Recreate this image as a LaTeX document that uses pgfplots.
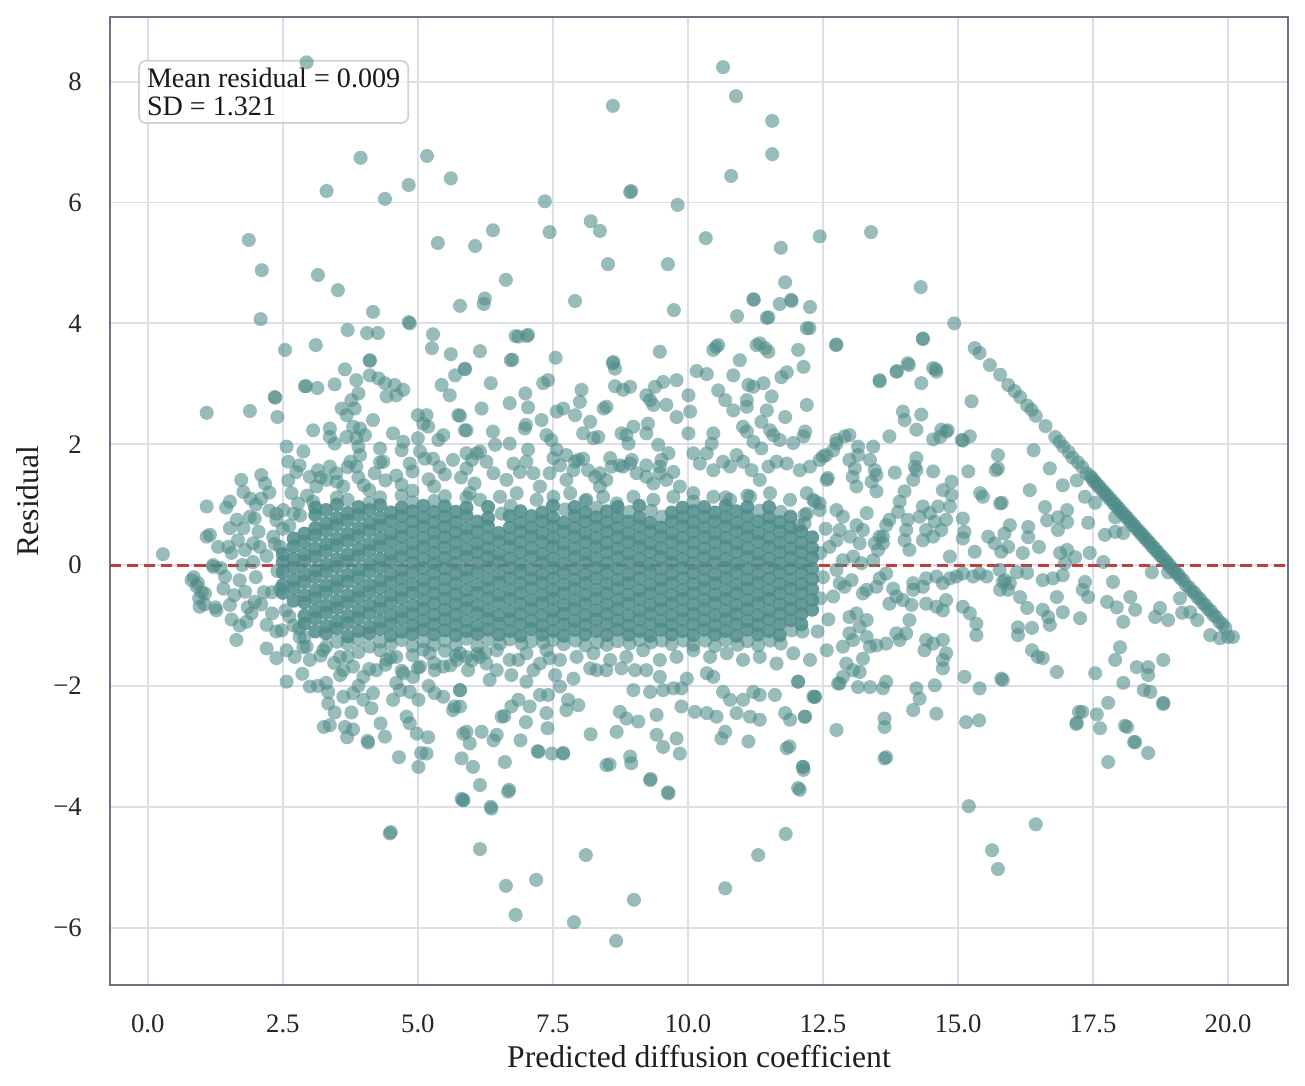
\documentclass[border=0pt]{standalone}
\usepackage{fontspec}
\setmainfont{Liberation Serif}
\usepackage{pgfplots}
\usepackage{pgfplotstable}
\pgfplotsset{compat=1.18}
\usetikzlibrary{calc}
\definecolor{ptc}{RGB}{78,139,136}
\definecolor{gridc}{RGB}{220,222,232}
\definecolor{framec}{RGB}{108,114,128}
\definecolor{redc}{RGB}{196,60,60}
\pgfplotsset{pts/.style={only marks, mark=*, mark size=2.0pt, color=ptc, mark options={fill=ptc, fill opacity=0.58, draw opacity=0, line width=0pt}},
  corepts/.style={only marks, mark=*, mark size=2.0pt, color=ptc, mark options={fill=ptc, fill opacity=0.85, draw opacity=0, line width=0pt}}}

\pgfplotstableread{
x r0 r1 r2 r3 r4 r5 r6 r7 r8 r9 r10 r11 r12 r13 r14 r15 r16
2.50 nan nan nan nan nan nan -0.46 -0.33 -0.12 0.05 0.18 nan nan nan nan nan nan
2.70 nan nan nan nan nan -0.59 -0.38 -0.25 -0.04 0.10 0.31 0.44 nan nan nan nan nan
2.90 nan nan nan -0.97 -0.84 -0.62 -0.50 -0.28 -0.15 0.06 0.18 0.39 0.52 nan nan nan nan
3.10 nan nan -1.10 -0.88 -0.76 -0.55 -0.42 -0.20 -0.08 0.14 0.27 0.49 0.61 0.83 0.95 nan nan
3.30 nan -1.35 -1.13 -1.01 -0.79 -0.67 -0.45 -0.33 -0.11 0.01 0.23 0.35 0.57 0.69 0.91 nan nan
3.50 nan -1.27 -1.05 -0.93 -0.71 -0.59 -0.37 -0.25 -0.03 0.10 0.32 0.44 0.66 0.78 1.00 1.12 nan
3.70 -1.52 -1.30 -1.18 -0.96 -0.84 -0.62 -0.50 -0.28 -0.16 0.06 0.18 0.40 0.52 0.74 0.86 1.08 nan
3.90 -1.44 -1.23 -1.09 -0.88 -0.75 -0.54 -0.42 -0.21 -0.07 0.15 0.27 0.48 0.61 0.83 0.96 nan nan
4.10 nan -1.35 -1.13 -1.02 -0.80 -0.66 -0.45 -0.33 -0.11 0.02 0.23 0.35 0.57 0.70 0.91 1.03 1.24
4.30 -1.41 -1.27 -1.06 -0.93 -0.72 -0.59 -0.38 -0.25 -0.04 0.10 0.31 0.44 0.65 0.78 0.99 1.12 nan
4.50 -1.53 -1.31 -1.17 -0.97 -0.83 -0.63 -0.49 -0.29 -0.15 0.05 0.19 0.39 0.53 0.73 0.87 nan nan
4.70 nan -1.24 -1.10 -0.89 -0.76 -0.55 -0.41 -0.22 -0.08 0.13 0.28 0.47 0.62 0.81 0.95 1.15 nan
4.90 -1.49 -1.34 -1.14 -1.00 -0.81 -0.67 -0.46 -0.32 -0.12 0.04 0.21 0.36 0.55 0.72 0.89 1.04 1.23
5.10 -1.40 -1.26 -1.07 -0.92 -0.73 -0.58 -0.39 -0.24 -0.05 0.11 0.30 0.45 0.64 0.79 0.98 nan nan
5.30 nan -1.32 -1.15 -0.98 -0.82 -0.64 -0.47 -0.30 -0.13 0.03 0.20 0.38 0.54 0.71 0.88 1.06 nan
5.50 -1.42 -1.25 -1.08 -0.90 -0.74 -0.56 -0.40 -0.23 -0.06 0.12 0.29 0.46 0.63 0.80 0.97 1.14 nan
5.70 -1.50 -1.33 -1.16 -0.99 -0.82 -0.65 -0.48 -0.31 -0.14 0.03 0.20 0.37 0.54 0.71 0.88 nan nan
5.90 nan -1.22 -1.09 -0.92 -0.72 -0.58 -0.41 -0.21 -0.07 0.14 0.27 0.47 0.61 0.82 0.95 1.12 nan
6.10 -1.47 -1.34 -1.14 -1.00 -0.80 -0.66 -0.46 -0.32 -0.12 0.04 0.21 0.36 0.55 0.72 nan nan nan
6.30 nan -1.23 -1.07 -0.89 -0.75 -0.55 -0.39 -0.24 -0.04 0.13 0.28 0.45 0.64 0.78 0.96 nan nan
6.50 nan nan -1.15 -0.97 -0.83 -0.63 -0.49 -0.29 -0.15 0.05 0.19 0.39 0.53 nan nan nan nan
6.70 nan -1.23 -1.09 -0.90 -0.76 -0.56 -0.41 -0.22 -0.05 0.11 0.30 0.44 0.62 0.81 nan nan nan
6.90 nan nan -1.17 -0.98 -0.81 -0.64 -0.47 -0.30 -0.13 0.02 0.21 0.38 0.55 0.70 0.89 nan nan
7.10 nan -1.26 -1.06 -0.92 -0.73 -0.58 -0.38 -0.23 -0.07 0.13 0.28 0.47 0.62 0.81 nan nan nan
7.30 nan nan -1.15 -1.00 -0.83 -0.64 -0.49 -0.30 -0.15 0.04 0.19 0.38 0.53 0.72 0.87 nan nan
7.50 nan -1.24 -1.09 -0.90 -0.75 -0.56 -0.41 -0.22 -0.05 0.11 0.30 0.45 0.64 0.79 0.98 nan nan
7.70 nan -1.31 -1.17 -0.98 -0.81 -0.66 -0.47 -0.32 -0.13 0.02 0.21 0.36 0.55 0.70 nan nan nan
7.90 nan nan -1.07 -0.92 -0.73 -0.58 -0.39 -0.24 -0.06 0.13 0.28 0.47 0.62 0.81 0.96 nan nan
8.10 nan -1.33 -1.15 -0.99 -0.83 -0.64 -0.49 -0.30 -0.15 0.04 0.19 0.38 0.53 0.72 0.87 1.06 nan
8.30 nan nan -1.09 -0.90 -0.75 -0.56 -0.41 -0.22 -0.05 0.11 0.30 0.45 0.64 0.79 nan nan nan
8.50 nan -1.32 -1.16 -0.98 -0.81 -0.65 -0.47 -0.31 -0.13 0.03 0.21 0.37 0.55 0.71 0.89 nan nan
8.70 nan -1.26 -1.07 -0.91 -0.73 -0.57 -0.39 -0.24 -0.06 0.12 0.28 0.46 0.62 0.80 0.96 nan nan
8.90 nan nan -1.15 -1.00 -0.83 -0.64 -0.49 -0.30 -0.15 0.04 0.19 0.38 0.53 0.72 nan nan nan
9.10 nan -1.24 -1.09 -0.90 -0.75 -0.56 -0.41 -0.22 -0.05 0.11 0.30 0.45 0.64 0.79 0.98 nan nan
9.30 nan nan -1.17 -0.98 -0.81 -0.66 -0.47 -0.32 -0.13 0.02 0.21 0.36 0.55 0.70 nan nan nan
9.50 nan nan -1.07 -0.92 -0.73 -0.58 -0.39 -0.24 -0.06 0.13 0.28 0.47 0.62 nan nan nan nan
9.70 nan -1.31 -1.15 -0.99 -0.83 -0.64 -0.49 -0.30 -0.15 0.04 0.19 0.38 0.53 0.72 0.87 nan nan
9.90 nan nan -1.09 -0.90 -0.75 -0.56 -0.41 -0.22 -0.05 0.11 0.30 0.45 0.64 0.79 0.95 nan nan
10.10 nan -1.32 -1.16 -0.98 -0.81 -0.65 -0.47 -0.31 -0.13 0.03 0.21 0.37 0.55 0.71 0.89 1.05 nan
10.30 nan nan -1.07 -0.91 -0.73 -0.57 -0.39 -0.24 -0.06 0.12 0.28 0.46 0.62 0.80 0.96 nan nan
10.50 nan -1.34 -1.15 -1.00 -0.83 -0.64 -0.49 -0.30 -0.15 0.04 0.19 0.38 0.53 0.72 0.87 nan nan
10.70 nan -1.24 -1.09 -0.90 -0.75 -0.56 -0.41 -0.22 -0.05 0.11 0.30 0.45 0.64 0.79 0.98 1.12 nan
10.90 nan nan -1.17 -0.98 -0.81 -0.66 -0.47 -0.32 -0.13 0.02 0.21 0.36 0.55 0.70 0.89 nan nan
11.10 nan -1.26 -1.07 -0.92 -0.73 -0.58 -0.39 -0.24 -0.06 0.13 0.28 0.47 0.62 0.81 0.96 1.15 nan
11.30 nan -1.33 -1.15 -0.99 -0.83 -0.64 -0.49 -0.30 -0.15 0.04 0.19 0.38 0.53 0.72 nan nan nan
11.50 nan nan -1.09 -0.90 -0.75 -0.56 -0.41 -0.22 -0.05 0.11 0.30 0.45 0.64 0.79 0.96 nan nan
11.70 nan nan -1.16 -0.98 -0.81 -0.65 -0.47 -0.31 -0.13 0.03 0.21 0.37 0.55 0.71 nan nan nan
11.90 nan nan nan -0.91 -0.73 -0.57 -0.39 -0.24 -0.06 0.12 0.28 0.46 0.62 0.80 nan nan nan
12.10 nan nan nan -0.98 -0.81 -0.65 -0.47 -0.31 -0.13 0.03 0.21 0.37 0.55 nan nan nan nan
12.30 nan nan nan nan -0.74 -0.58 -0.40 -0.23 -0.06 0.12 0.28 0.46 nan nan nan nan nan
}\coretab

\begin{document}
\begin{tikzpicture}
\begin{axis}[
  scale only axis, width=11.78cm, height=9.68cm,
  xmin=-0.70, xmax=21.11, ymin=-6.95, ymax=9.07,
  xtick={0,2.5,5,7.5,10,12.5,15,17.5,20},
  xticklabels={0.0,2.5,5.0,7.5,10.0,12.5,15.0,17.5,20.0},
  ytick={-6,-4,-2,0,2,4,6,8},
  yticklabels={−6,−4,−2,0,2,4,6,8},
  grid=major, major grid style={gridc, line width=0.55pt},
  axis line style={framec, line width=0.8pt},
  major tick length=0pt, tick style={draw=none},
  ticklabel style={font=\fontsize{7.6}{9}\selectfont, text=black!85},
  xticklabel style={yshift=-5pt},
  yticklabel style={xshift=-4.5pt},
  xlabel={Predicted diffusion coefficient},
  ylabel={Residual},
  label style={font=\fontsize{9}{11}\selectfont, text=black!88},
  xlabel style={at={(axis description cs:0.5,-0.0857)}, anchor=base},
  ylabel style={at={(axis description cs:-0.0696,0.5)}, anchor=center},
  clip=true,
]
\coordinate (bl) at (rel axis cs:0,0);
\coordinate (tr) at (rel axis cs:1,1);

% dense core
\pgfplotsinvokeforeach{2,...,14}{\addplot[corepts] table[x=x,y=r#1]{\coretab};}
\pgfplotsinvokeforeach{0,1,15,16}{\addplot[pts] table[x=x,y=r#1]{\coretab};}

% outliers above
\addplot[pts] coordinates {(2.94,8.32)(10.65,8.24)(10.89,7.76)(8.61,7.60)(11.56,7.35)(11.56,6.80)(3.94,6.74)(5.17,6.77)(10.80,6.44)(4.83,6.29)(5.61,6.40)(3.31,6.19)(4.39,6.06)(8.93,6.17)(8.95,6.19)(7.35,6.02)(9.81,5.96)(8.20,5.69)(8.37,5.53)(7.44,5.51)(1.87,5.38)(5.37,5.33)(6.06,5.28)(6.39,5.54)(10.33,5.41)(12.44,5.44)(13.39,5.51)(8.52,4.98)(9.63,4.98)(2.11,4.88)(3.15,4.80)(11.72,5.25)(6.63,4.72)(3.52,4.55)(11.80,4.68)(14.31,4.60)(7.91,4.37)(5.78,4.29)(6.22,4.32)(6.24,4.41)(9.74,4.22)(11.22,4.39)(11.91,4.39)(12.26,4.27)(2.09,4.07)(4.17,4.19)(10.91,4.12)(11.46,4.09)(4.83,4.02)(4.85,4.00)(14.93,4.00)(3.70,3.89)(4.06,3.84)(4.26,3.84)(5.28,3.82)(6.81,3.79)(7.02,3.79)(12.20,3.92)(2.54,3.56)(3.11,3.64)(5.26,3.59)(12.74,3.64)(14.35,3.74)(4.11,3.38)(5.61,3.49)(6.72,3.39)(8.61,3.34)(10.52,3.61)(11.33,3.67)(13.55,3.04)(13.87,3.21)(14.09,3.31)(14.59,3.24)(2.93,2.96)(2.35,2.78)(1.89,2.55)(1.09,2.52)(11.70,4.32)(11.92,4.37)(11.21,4.40)(11.49,4.10)(12.25,3.92)};

% halo upper left
\addplot[pts] coordinates {(5.69,3.14)(5.87,3.25)(5.44,2.98)(5.59,2.81)(5.75,2.48)(5.87,2.23)(4.11,3.39)(3.65,3.24)(2.91,2.96)(3.14,2.93)(3.46,2.99)(3.86,3.06)(4.11,3.14)(4.27,3.09)(4.39,3.01)(4.57,2.98)(4.73,2.90)(4.60,2.81)(4.42,2.79)(3.90,2.84)(2.36,2.77)(2.40,2.45)(3.77,2.73)(3.83,2.59)(3.59,2.59)(3.68,2.48)(4.17,2.40)(3.06,2.23)(3.37,2.26)(3.37,2.12)(3.46,2.01)(3.80,2.29)(3.93,2.26)(4.02,2.15)(3.68,2.12)(3.86,2.10)(3.90,1.96)(3.93,1.82)(3.75,1.71)(3.86,1.63)(4.54,2.18)(4.73,2.04)(4.70,1.90)(4.30,1.93)(4.36,1.71)(5.00,2.48)(5.16,2.48)(5.10,2.34)(5.19,2.29)(5.47,2.15)(5.38,2.07)(5.00,2.10)(5.65,1.74)(5.28,1.76)(5.04,1.88)(5.13,1.76)(2.57,1.96)(2.88,1.88)(2.60,1.71)(2.81,1.65)(2.75,1.54)(2.10,1.49)(2.17,1.35)(1.73,1.41)(1.77,1.21)(2.10,1.10)(1.98,0.77)(1.89,0.80)(2.38,0.85)(1.52,1.05)(1.09,0.97)(1.09,0.47)(0.28,0.18)(1.21,0.00)(1.52,0.61)(1.77,0.61)(1.49,0.30)(1.67,0.41)(1.80,0.25)(1.95,0.36)(2.07,0.30)(2.32,0.47)(2.38,0.74)(2.51,0.91)(2.66,1.19)(2.78,1.02)(3.06,1.05)(3.00,1.46)(3.15,1.57)(3.12,1.30)(3.37,1.63)(3.49,1.52)(3.62,1.30)(3.31,1.41)(3.2,1.45)(3.5,1.38)(3.9,1.45)(4.2,1.52)(4.4,1.40)(4.6,1.48)(4.9,1.55)(5.2,1.42)(5.5,1.50)(5.8,1.45)(6.05,1.35)(3.7,1.62)(4.3,1.70)(4.85,1.68)(5.4,1.62)(5.9,1.60)(4.0,1.32)(4.7,1.33)(5.3,1.30)(2.95,1.15)(2.7,0.85)(2.5,0.6)(2.35,0.35)(2.4,-0.1)(2.3,-0.45)(2.55,-0.75)(2.7,-1.0)(2.9,-1.2)};

% halo left edge
\addplot[pts] coordinates {(0.85,-0.2)(0.9,-0.35)(1.0,-0.45)(1.05,-0.65)(0.95,-0.55)(1.15,0.5)(1.3,0.3)(1.35,-0.05)(1.55,0.2)(1.6,-0.5)(1.65,0.75)(1.75,0.0)(1.85,-0.7)(1.9,1.1)(2.0,-0.2)(2.05,0.55)(2.15,-0.45)(2.2,0.15)(2.25,1.2)(2.3,-0.8)(1.25,-0.7)(1.45,0.95)(1.95,0.05)(2.1,-0.65)(2.45,0.3)(2.45,-0.4)(2.0,1.0)(1.7,-1.0)(2.6,1.4)(2.25,0.9)(1.55,-0.9)(0.81,-0.25)(0.93,-0.30)(1.06,-0.47)(0.96,-0.69)(1.27,-0.75)(1.52,-0.66)(1.40,-0.39)(1.21,-0.03)(1.43,-0.19)(1.70,-0.25)(1.80,-0.44)(1.64,-1.24)(1.83,-0.94)(1.92,-0.80)(2.20,-0.99)(1.98,-0.61)(2.38,-1.10)(2.48,-1.08)(2.62,-0.85)(2.80,-1.05)(2.62,0.65)(2.82,0.82)};

% halo lower left
\addplot[pts] coordinates {(2.20,-1.38)(2.38,-1.54)(2.57,-1.41)(2.72,-1.52)(2.88,-1.36)(3.00,-1.57)(2.57,-1.93)(2.86,-1.80)(3.00,-2.01)(3.15,-2.00)(3.34,-2.10)(3.34,-2.29)(3.46,-2.44)(3.37,-2.65)(3.65,-2.68)(3.77,-2.44)(3.80,-2.72)(4.08,-2.94)(4.14,-2.37)(4.31,-2.62)(4.39,-2.84)(3.56,-1.82)(3.62,-2.18)(3.80,-2.12)(3.99,-2.23)(4.17,-2.12)(4.54,-2.23)(4.67,-2.07)(4.85,-2.10)(5.01,-2.23)(4.79,-2.51)(4.85,-2.62)(4.98,-2.79)(5.16,-3.12)(5.01,-3.34)(5.78,-2.07)(5.65,-2.40)(5.84,-2.79)(5.81,-3.20)(5.84,-3.89)(4.48,-4.44)(2.81,-1.19)(2.94,-1.35)(3.25,-1.41)(3.56,-1.52)(3.62,-1.74)(3.99,-1.85)(4.23,-1.74)(4.42,-1.57)(4.60,-1.52)(4.73,-1.79)(4.91,-1.85)(5.04,-1.68)(5.22,-1.46)(5.31,-1.74)(5.47,-1.68)(5.72,-1.57)(5.90,-1.52)(5.31,-2.12)(5.47,-2.18)(5.68,-2.34)(3.2,-1.5)(3.45,-1.62)(3.8,-1.68)(4.1,-1.72)(4.4,-1.65)(4.7,-1.75)(5.0,-1.7)(5.3,-1.62)(5.6,-1.66)(6.0,-1.58)(6.25,-1.45)(3.3,-1.95)(3.9,-2.0)(4.6,-1.95)(5.2,-2.0)(3.26,-2.68)(3.69,-2.85)(4.07,-2.91)(4.65,-3.18)(5.19,-2.85)};

% halo upper middle
\addplot[pts] coordinates {(6.86,3.78)(7.04,3.81)(6.15,3.54)(6.75,3.40)(7.55,3.43)(5.87,3.24)(6.35,3.01)(8.62,3.36)(8.65,3.25)(9.48,3.53)(7.32,3.01)(7.41,3.06)(6.99,2.84)(6.70,2.68)(6.18,2.59)(7.04,2.61)(7.29,2.40)(7.00,2.32)(6.98,2.26)(6.39,2.21)(5.90,2.23)(5.78,2.47)(6.43,1.99)(6.70,2.01)(7.04,1.91)(6.15,1.88)(6.00,1.74)(7.57,2.54)(7.69,2.59)(7.91,2.48)(8.03,2.90)(8.00,2.70)(8.19,2.37)(8.06,2.18)(8.25,2.10)(8.34,2.12)(7.38,2.15)(7.47,2.07)(7.57,1.91)(7.51,1.77)(7.75,1.82)(7.91,1.71)(8.06,1.76)(8.44,2.59)(8.49,2.62)(8.65,2.96)(8.80,2.90)(8.93,2.95)(8.77,2.18)(8.86,2.15)(8.90,2.01)(8.99,2.29)(9.23,2.18)(9.26,2.34)(9.23,2.81)(9.30,2.73)(9.36,2.65)(9.39,2.95)(9.54,3.03)(9.60,2.65)(9.79,3.06)(9.79,2.45)(9.45,1.99)(9.64,1.85)(9.51,1.74)(9.73,1.54)(9.48,1.52)(9.23,1.65)(8.96,1.74)(8.80,1.63)(8.56,1.77)(8.37,1.52)(10.01,2.81)(10.04,2.54)(10.01,2.18)(10.47,2.18)(10.44,2.01)(10.16,3.21)(10.35,3.16)(10.56,2.89)(10.69,2.73)(10.84,2.56)(10.47,3.56)(10.56,3.64)(10.84,3.14)(10.96,3.39)(11.27,3.64)(11.43,3.59)(11.49,3.53)(11.12,2.98)(11.21,2.95)(11.40,3.01)(11.55,2.79)(11.09,2.73)(11.09,2.62)(11.36,2.37)(11.46,2.56)(11.02,2.29)(11.09,2.21)(11.21,2.04)(11.36,1.93)(11.52,2.23)(11.80,2.45)(11.73,3.11)(11.83,3.19)(12.04,3.56)(12.14,3.28)(12.20,2.65)(12.17,2.21)(12.14,2.13)(11.95,2.02)(11.70,2.07)(11.58,2.15)};

\addplot[pts] coordinates {(5.90,1.85)(6.09,1.85)(6.27,1.71)(6.40,1.52)(6.64,1.41)(6.77,1.68)(6.89,1.54)(7.01,1.71)(7.14,1.52)(7.26,1.30)(7.44,1.52)(7.63,1.65)(7.75,1.41)(7.88,1.57)(7.97,1.74)(8.15,1.57)(8.28,1.46)(8.37,1.30)(8.49,1.41)(8.59,1.63)(8.74,1.65)(8.93,1.68)(9.05,1.52)(9.23,1.46)(9.36,1.35)(9.48,1.63)(9.60,1.41)(9.85,1.30)(10.10,1.85)(10.22,1.68)(10.35,1.85)(10.47,1.57)(10.65,1.71)(10.78,1.63)(10.90,1.82)(11.02,1.71)(11.18,1.57)(11.33,1.41)(11.49,1.63)(11.64,1.71)(11.83,1.68)(12.07,1.57)(12.26,1.63)(12.44,1.74)(12.57,1.41)(12.32,1.08)(12.44,0.91)(12.20,0.85)(12.69,1.90)(12.75,2.01)(5.96,1.19)(6.15,1.08)(6.52,1.13)(6.83,1.19)(7.20,1.08)(7.51,1.13)(7.82,1.19)(8.12,1.08)(8.43,1.13)(8.68,1.02)(8.99,1.13)(9.36,1.08)(9.73,1.13)(10.10,1.19)(10.47,1.13)(10.78,1.08)(11.15,1.13)(11.52,1.19)(11.89,1.08)(12.20,1.19)(6.55,0.85)(6.72,0.98)(7.72,0.92)(8.32,0.95)(8.92,0.88)(9.32,0.90)(9.52,0.80)(11.32,0.90)(11.72,0.88)(12.05,0.65)};

% halo lower middle
\addplot[pts] coordinates {(5.93,-1.74)(6.33,-1.90)(6.27,-1.63)(6.46,-1.74)(6.73,-1.82)(6.86,-1.57)(7.01,-1.93)(7.14,-1.74)(7.26,-1.63)(7.44,-1.54)(7.54,-1.82)(7.63,-2.01)(7.88,-1.88)(8.19,-1.71)(8.31,-1.74)(8.49,-1.74)(8.77,-1.71)(9.02,-1.74)(8.99,-2.07)(9.23,-1.74)(9.30,-2.10)(9.48,-1.85)(9.54,-2.07)(9.73,-2.04)(9.88,-2.04)(9.98,-1.88)(10.35,-1.79)(10.47,-1.85)(10.65,-2.10)(10.78,-2.23)(11.02,-2.23)(11.21,-2.10)(11.33,-2.15)(11.61,-2.15)(11.80,-2.45)(12.04,-1.93)(12.32,-2.18)(12.17,-2.51)(11.89,-2.56)(11.33,-2.56)(11.15,-2.51)(10.90,-2.45)(10.53,-2.51)(10.35,-2.45)(10.13,-2.43)(9.88,-2.34)(9.42,-2.48)(9.08,-2.59)(8.86,-2.54)(8.74,-2.43)(8.68,-2.76)(9.42,-2.81)(9.54,-3.01)(9.79,-2.87)(9.85,-3.12)(8.93,-3.17)(8.49,-3.31)(9.30,-3.56)(9.64,-3.78)(10.62,-2.87)(10.69,-2.76)(11.12,-2.92)(11.83,-3.03)(12.14,-3.39)(12.07,-3.72)(12.78,-1.96)(12.75,-2.73)(5.78,-2.07)(5.78,-2.34)(5.90,-2.76)(5.96,-2.95)(6.18,-2.76)(6.46,-2.81)(6.55,-2.51)(6.73,-2.34)(6.86,-2.23)(7.07,-2.34)(7.26,-2.15)(7.41,-2.15)(7.38,-2.45)(7.78,-2.23)(7.97,-2.32)(7.23,-3.09)(7.48,-3.12)(7.69,-3.12)(6.61,-3.26)(6.02,-3.34)(6.15,-3.64)(5.84,-3.89)(6.67,-3.75)(6.36,-4.03)(8.2,-2.8)(7.75,-2.4)(7.4,-2.7)(6.9,-2.9)(6.4,-2.9)(6.6,-2.5)(7.0,-2.6)(5.78,-1.46)(6.15,-1.52)(6.46,-1.41)(6.70,-1.57)(7.01,-1.46)(7.38,-1.41)(7.63,-1.57)(7.94,-1.52)(8.25,-1.46)(8.56,-1.57)(8.86,-1.52)(9.17,-1.41)(9.48,-1.57)(9.79,-1.52)(10.10,-1.41)(10.41,-1.52)(10.72,-1.46)(11.02,-1.57)(11.33,-1.52)(11.64,-1.63)(11.95,-1.46)(12.26,-1.57)(12.57,-1.41)(6.52,-1.30)(6.92,-1.30)(7.32,-1.28)(7.92,-1.25)(8.32,-1.28)(8.92,-1.30)(9.32,-1.28)(9.52,-1.25)(9.92,-1.25)(10.32,-1.25)(10.92,-1.32)(11.52,-1.25)(11.72,-1.30)(11.92,-1.08)(12.12,-1.10)};

% outliers below
\addplot[pts] coordinates {(8.67,-6.22)(7.89,-5.91)(6.81,-5.79)(9.00,-5.54)(6.63,-5.31)(7.19,-5.21)(8.11,-4.80)(10.69,-5.35)(11.30,-4.80)(11.81,-4.45)(4.50,-4.42)(6.15,-4.70)(15.74,-5.03)(15.63,-4.72)(16.44,-4.29)(15.20,-3.99)(5.81,-3.87)(6.35,-4.00)(6.69,-3.72)(9.63,-3.76)(12.04,-3.69)(9.31,-3.54)(13.67,-3.18)(18.52,-3.11)(17.78,-3.26)(18.26,-2.93)(5.06,-3.11)(7.22,-3.08)(7.69,-3.11)(15.39,-2.57)(18.09,-2.66)(17.24,-2.43)(17.19,-2.63)(17.57,-2.47)(18.80,-2.30)(18.44,-2.07)(13.64,-2.68)(13.64,-2.54)(12.13,-3.34)(11.88,-3.00)(12.16,-2.51)(12.35,-2.18)(8.55,-3.30)(8.95,-3.28)};

% region 12.5 - 16
\addplot[pts] coordinates {(12.75,3.65)(14.35,3.75)(13.55,3.06)(13.86,3.20)(14.07,3.34)(14.32,3.01)(14.54,3.26)(14.60,3.20)(13.98,2.54)(14.01,2.40)(14.32,2.49)(14.23,2.24)(13.73,2.13)(14.54,2.08)(14.69,2.24)(14.78,2.21)(15.25,2.71)(15.09,2.06)(15.22,2.13)(12.75,2.07)(12.90,2.13)(12.99,2.15)(13.15,1.96)(13.15,1.82)(12.99,1.74)(13.09,1.60)(13.05,1.46)(13.12,1.30)(13.43,1.96)(13.37,1.74)(13.46,1.57)(13.49,1.49)(13.40,1.38)(13.49,1.22)(13.83,1.53)(14.23,1.77)(14.20,1.63)(14.23,1.57)(14.17,1.41)(14.54,1.55)(14.01,1.22)(13.92,1.05)(13.89,0.88)(14.07,0.75)(14.04,0.58)(14.01,0.41)(14.10,0.25)(13.73,0.75)(13.67,0.66)(13.55,0.47)(13.61,0.36)(13.52,0.25)(14.35,0.97)(14.29,0.80)(14.48,0.86)(14.57,0.72)(14.41,0.58)(14.35,0.41)(14.54,0.47)(14.69,0.58)(14.78,0.75)(14.63,0.97)(14.72,1.24)(14.88,1.38)(14.88,1.16)(14.85,0.97)(15.09,0.77)(15.12,0.55)(15.09,0.44)(15.19,1.55)(15.46,1.13)(15.74,1.60)(15.78,1.02)(15.31,0.22)(15.56,0.47)(15.68,0.36)(15.80,0.22)(15.86,0.52)(15.93,0.30)(14.85,0.14)(12.75,0.91)(12.87,0.80)(12.81,0.58)(13.12,0.66)(13.24,0.58)(13.31,0.86)(13.18,0.36)(13.00,0.47)(12.62,0.30)(12.75,0.41)(12.87,0.08)(13.06,0.14)(13.21,0.03)(13.43,0.08)(13.46,0.36)(13.61,0.47)(12.44,1.02)(12.35,1.05)(12.50,1.80)(12.56,1.82)(12.59,1.44)(12.16,0.83)(12.16,0.69)(12.55,0.60)(12.45,0.20)(12.50,-0.20)(12.45,-0.55)(12.60,-0.90)(12.40,-1.10)(14.81,2.23)(14.67,2.12)(15.07,2.07)(15.74,1.82)(15.70,1.57)(15.41,1.19)};
\addplot[pts] coordinates {(12.75,-0.08)(12.81,-0.30)(12.69,-0.52)(12.90,-0.36)(13.03,-0.25)(13.24,-0.47)(13.31,-0.41)(13.55,-0.22)(13.67,-0.14)(13.49,-0.36)(13.80,-0.39)(13.86,-0.52)(13.73,-0.64)(13.98,-0.58)(14.17,-0.41)(14.14,-0.66)(14.17,-0.30)(14.35,-0.36)(14.41,-0.22)(14.60,-0.19)(14.72,-0.30)(14.85,-0.22)(14.97,-0.19)(15.09,-0.14)(15.28,-0.19)(15.40,-0.14)(15.53,-0.19)(15.77,-0.08)(15.83,-0.28)(15.93,-0.41)(12.99,-0.86)(13.12,-0.80)(13.31,-0.91)(13.18,-1.02)(12.99,-1.13)(12.87,-1.35)(13.06,-1.24)(13.31,-1.19)(13.37,-1.35)(13.49,-1.33)(13.67,-1.30)(13.92,-1.24)(13.86,-1.13)(14.04,-1.13)(14.10,-0.91)(14.41,-0.64)(14.60,-0.69)(14.72,-0.75)(14.78,-0.58)(14.41,-1.24)(14.38,-1.41)(14.54,-1.30)(14.72,-1.24)(14.78,-1.46)(14.72,-1.57)(14.72,-1.71)(15.09,-0.69)(15.22,-0.80)(15.34,-0.97)(15.34,-1.16)(12.93,-1.63)(13.06,-1.74)(13.18,-1.77)(12.87,-1.85)(12.81,-1.96)(13.15,-2.02)(13.37,-2.02)(13.61,-2.04)(13.67,-1.93)(13.24,-1.55)(14.57,-1.99)(14.23,-2.04)(14.29,-2.21)(14.17,-2.40)(14.60,-2.46)(13.64,-3.20)(15.12,-1.85)(15.40,-2.04)(15.80,-1.88)(15.15,-2.60)(12.35,-2.18)(12.04,-1.93)(12.13,-3.34)};

% region 15.8 - 20
\addplot[pts] coordinates {(16.33,1.24)(16.61,0.96)(16.94,1.32)(16.65,0.74)(16.30,0.63)(16.30,0.46)(15.96,0.66)(15.81,1.03)(16.85,0.79)(17.02,0.91)(17.02,0.71)(16.85,0.58)(16.89,0.20)(17.02,0.25)(17.17,0.13)(17.41,0.70)(17.54,1.03)(17.44,0.20)(17.35,1.13)(17.69,0.05)(17.72,0.50)(17.91,0.55)(18.06,0.53)(17.91,0.79)(18.59,-0.12)(18.89,-0.12)(17.87,-0.28)(17.35,-0.28)(17.31,-0.41)(17.41,-0.53)(17.26,-0.88)(16.83,-0.53)(16.57,-0.25)(16.76,-0.22)(16.94,-0.17)(16.98,0.03)(16.28,-0.13)(16.09,-0.12)(15.87,-0.25)(15.96,-0.30)(16.15,-0.53)(16.28,-0.71)(15.78,-0.41)(16.57,-0.74)(16.67,-0.86)(16.94,-0.78)(16.70,-0.99)(17.76,-0.61)(17.94,-0.70)(18.19,-0.53)(18.28,-0.74)(18.06,-0.94)(18.65,-0.86)(18.74,-0.71)(18.89,-0.91)(19.11,-0.55)(19.15,-0.79)(19.30,-0.78)(19.43,-0.91)(19.67,-1.16)(19.85,-1.21)(20.09,-1.19)(20.00,-1.19)(16.11,-1.03)(16.11,-1.16)(16.37,-1.04)(16.37,-1.41)(16.48,-1.52)(16.57,-1.54)(16.83,-1.77)(15.83,-1.90)(17.54,-1.79)(17.91,-1.57)(18.00,-1.36)(18.31,-1.69)(18.52,-1.69)(18.52,-1.82)(18.80,-1.57)(18.06,-1.95)(18.56,-2.10)(18.80,-2.28)(17.30,-2.43)(17.20,-2.61)(17.78,-2.28)(17.63,-2.70)(18.13,-2.68)(18.28,-2.93)(16.2,0.20)(16.5,0.30)(16.7,1.60)(16.4,1.90)(17.2,1.40)};

% diagonal
\addplot[pts] coordinates {(15.31,3.59)(15.40,3.51)(15.59,3.31)(15.78,3.15)(15.93,2.98)(16.05,2.88)(16.15,2.78)(16.28,2.64)(16.36,2.57)(16.44,2.47)(16.62,2.30)(16.80,2.12)(16.88,2.04)(16.95,1.96)(17.05,1.87)(17.12,1.78)(17.22,1.70)(17.30,1.62)(17.38,1.52)(17.45,1.47)(17.48,1.44)(17.51,1.39)(17.55,1.37)(17.58,1.32)(17.62,1.30)(17.66,1.24)(17.70,1.22)(17.73,1.17)(17.77,1.15)(17.80,1.10)(17.84,1.08)(17.88,1.02)(17.91,1.01)(17.95,0.95)(17.98,0.94)(18.02,0.88)(18.06,0.86)(18.10,0.80)(18.13,0.79)(18.17,0.73)(18.20,0.72)(18.24,0.66)(18.27,0.65)(18.31,0.59)(18.35,0.57)(18.38,0.52)(18.42,0.50)(18.45,0.45)(18.49,0.43)(18.52,0.38)(18.56,0.36)(18.60,0.30)(18.63,0.29)(18.67,0.23)(18.70,0.22)(18.74,0.16)(18.78,0.14)(18.81,0.09)(18.85,0.07)(18.88,0.02)(18.92,0.00)(18.96,-0.06)(19.00,-0.08)(19.04,-0.14)(19.08,-0.16)(19.12,-0.22)(19.17,-0.25)(19.22,-0.33)(19.28,-0.37)(19.33,-0.43)(19.38,-0.46)(19.43,-0.53)(19.48,-0.56)(19.53,-0.63)(19.58,-0.66)(19.63,-0.73)(19.68,-0.76)(19.73,-0.83)(19.78,-0.86)(19.84,-0.94)(19.90,-0.98)(19.95,-1.04)};

\addplot[redc, line width=0.85pt, dash pattern=on 3.2pt off 1.6pt] coordinates {(-0.70,0) (21.11,0)};

\node[draw=gray!35, line width=0.5pt, fill=white, fill opacity=0.8, text opacity=1, rounded corners=2pt, anchor=north west, align=left, inner xsep=2.3pt, inner ysep=2pt, font=\fontsize{8}{8}\selectfont, text=black!90] at (rel axis cs:0.0238,0.9556) {Mean residual = 0.009\\SD = 1.321};
\end{axis}
\pgfresetboundingbox
\path[use as bounding box] ($(bl)+(-1.10cm,-1.01cm)$) rectangle ($(tr)+(0.17cm,0.17cm)$);
\end{tikzpicture}
\end{document}
